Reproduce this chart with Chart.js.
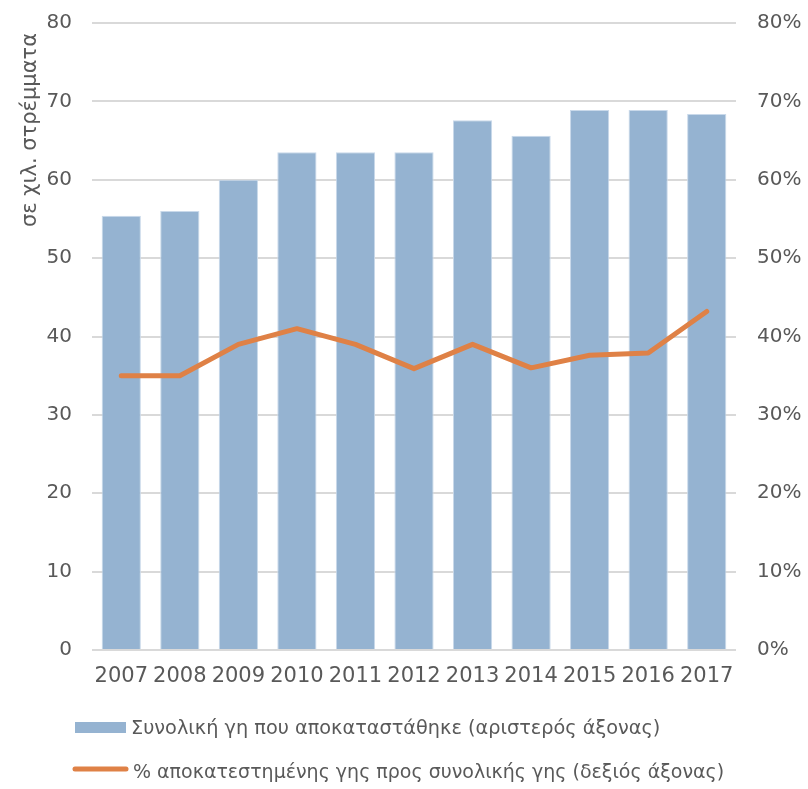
<!DOCTYPE html>
<html><head><meta charset="utf-8">
<script src="https://cdn.jsdelivr.net/npm/chart.js@4/dist/chart.umd.min.js"></script>
<style>html,body{margin:0;padding:0;background:#fff}#wrap{width:808px;height:789px;position:relative}</style>
</head><body><div id="wrap"><canvas id="c" width="808" height="789"></canvas></div>
<script>
const years = ['2007','2008','2009','2010','2011','2012','2013','2014','2015','2016','2017'];
const restoredLand = [55.4, 56.0, 60.0, 63.5, 63.5, 63.5, 67.6, 65.6, 68.9, 68.9, 68.4];
const restoredShare = [35.0, 35.0, 39.0, 41.0, 39.0, 35.9, 39.0, 36.0, 37.6, 37.9, 43.2];
const barLabel = 'Συνολική γη που αποκαταστάθηκε (αριστερός άξονας)';
const lineLabel = '% αποκατεστημένης γης προς συνολικής γης (δεξιός άξονας)';
const yTitle = 'σε χιλ. στρέμματα';

const FONT = "'DejaVu Sans', sans-serif";
const TXT = '#595959';
const BAR = '#95B3D1';
const LINE = '#DF8146';

const legendPlugin = {
  id: 'customLegend',
  afterDraw(chart) {
    const ctx = chart.ctx;
    ctx.save();
    // y-axis title
    ctx.save();
    ctx.translate(31, 130);
    ctx.rotate(-Math.PI / 2);
    ctx.font = '21px ' + FONT;
    ctx.fillStyle = TXT;
    ctx.textAlign = 'center';
    ctx.textBaseline = 'middle';
    ctx.fillText(yTitle, 0, 0);
    ctx.restore();
    // legend
    ctx.font = '19.3px ' + FONT;
    ctx.textBaseline = 'middle';
    ctx.fillStyle = BAR;
    ctx.fillRect(75, 722, 51, 11);
    ctx.fillStyle = TXT;
    ctx.fillText(barLabel, 131, 729);
    ctx.strokeStyle = LINE;
    ctx.lineWidth = 5;
    ctx.lineCap = 'round';
    ctx.beginPath(); ctx.moveTo(75, 769); ctx.lineTo(126, 769); ctx.stroke();
    ctx.font = '19px ' + FONT;
    ctx.fillText(lineLabel, 133, 773);
    ctx.restore();
  }
};

function fixY(s, w) { s.width = w; s.paddingTop = 0; s.paddingBottom = 0; }

new Chart(document.getElementById('c'), {
  data: {
    labels: years,
    datasets: [
      { type: 'line', label: lineLabel, data: restoredShare, yAxisID: 'y2', borderColor: LINE, borderWidth: 5,
        pointRadius: 0, tension: 0, borderCapStyle: 'round', borderJoinStyle: 'round', order: 0 },
      { type: 'bar', label: barLabel, data: restoredLand, yAxisID: 'y', backgroundColor: BAR,
        borderColor: '#C9D9EA', borderWidth: 1, barPercentage: 0.67, categoryPercentage: 1, order: 1 }
    ]
  },
  options: {
    responsive: false, animation: false,
    layout: { padding: { left: 0, right: 0, top: 23, bottom: 94 } },
    plugins: { legend: { display: false }, tooltip: { enabled: false } },
    scales: {
      x: {
        grid: { display: false, drawTicks: false }, border: { display: false },
        ticks: { color: TXT, font: { family: FONT, size: 21 }, padding: 14, maxRotation: 0, autoSkip: false },
        afterFit(s) { s.height = 45; s.paddingLeft = 0; s.paddingRight = 0; }
      },
      y: {
        position: 'left', min: 0, max: 80,
        grid: { color: '#D9D9D9', lineWidth: 2, drawTicks: false }, border: { display: false },
        ticks: { stepSize: 10, color: TXT, font: { family: FONT, size: 20 }, padding: 20 },
        afterFit(s) { fixY(s, 92); }
      },
      y2: {
        position: 'right', min: 0, max: 80,
        grid: { display: false, drawTicks: false }, border: { display: false },
        ticks: { stepSize: 10, color: TXT, font: { family: FONT, size: 20 }, padding: 21, callback: v => v + '%' },
        afterFit(s) { fixY(s, 72); }
      }
    }
  },
  plugins: [legendPlugin]
});
</script></body></html>
